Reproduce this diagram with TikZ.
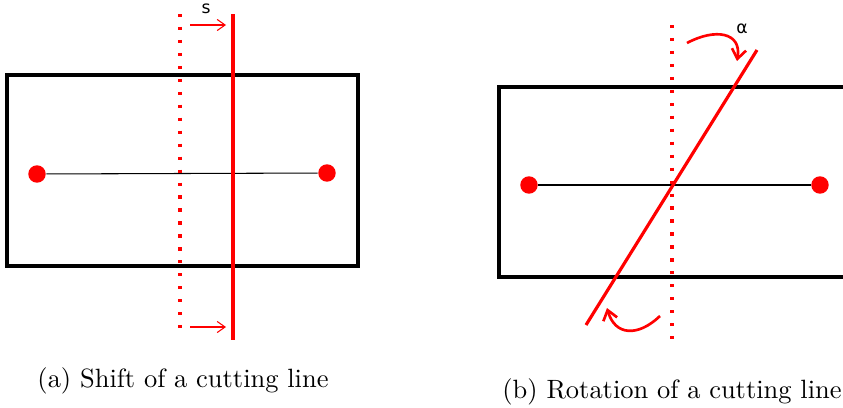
\documentclass[tikz,border=0pt]{standalone}
\usepackage{fontspec}
\newfontfamily\labelfont{DejaVu Sans}
\definecolor{cutred}{RGB}{255,0,0}
\usepackage{tikz}
\usetikzlibrary{shapes,arrows,arrows.meta,positioning,calc}

\tikzset{
    box/.style={draw=black, line width=1.2pt},
    endpoint/.style={circle, fill=cutred, inner sep=0pt, minimum size=6.6pt},
    cutline/.style={draw=cutred, line width=1.2pt},
    oldcut/.style={draw=cutred, line width=1.2pt, dash pattern=on 1.2pt off 3.7pt},
    shiftarrow/.style={draw=cutred, line width=0.4pt, -{Straight Barb[length=3pt, width=4.2pt]}},
    turnarrow/.style={draw=cutred, line width=1pt, -{Straight Barb[length=3.6pt, width=5.4pt]}},
    tag/.style={font=\labelfont\fontsize{6.5}{7}\selectfont, inner sep=1pt}
}

\begin{document}
\begin{tikzpicture}[x=0.378pt, y=-0.378pt]
            \useasboundingbox (0,0) rectangle (843,408);
            % (a) shift
            \draw[box] (7,75) rectangle (358,266);
            \node[endpoint] (la) at (37,174) {};
            \node[endpoint] (lb) at (327,173) {};
            \draw[line width=0.4pt] (la) -- (lb);
            \coordinate (oldtop) at (180,14);
            \coordinate (oldbot) at (180,336);
            \coordinate (newtop) at (233,14);
            \coordinate (newbot) at (233,340);
            \draw[oldcut] (oldtop) -- (oldbot);
            \draw[cutline] (newtop) -- (newbot);
            \coordinate (sa) at (190,25);
            \coordinate (sb) at (226,25);
            \coordinate (sc) at (190,327);
            \coordinate (sd) at (226,327);
            \draw[shiftarrow] (sa) -- (sb);
            \draw[shiftarrow] (sc) -- (sd);
            \node[tag] (s) at (206,9) {s};
            \node (capa) at (183,381) {(a) Shift of a cutting line};
            % (b) rotation
            \draw[box] (499,87) rectangle (848,277);
            \node[endpoint] (ra) at (529,185) {};
            \node[endpoint] (rb) at (820,185) {};
            \draw[line width=0.4pt] (ra) -- (rb);
            \coordinate (vtop) at (672,25);
            \coordinate (vbot) at (672,349);
            \coordinate (rtop) at (757,50);
            \coordinate (rbot) at (586,325);
            \draw[oldcut] (vtop) -- (vbot);
            \draw[cutline] (rbot) -- (rtop);
            \coordinate (ta) at (687,43);
            \coordinate (tb) at (737,61);
            \coordinate (ba) at (660,316);
            \coordinate (bb) at (607,308);
            \draw[turnarrow] (ta) .. controls (715,28) and (742,32) .. (tb);
            \draw[turnarrow] (ba) .. controls (638,337) and (615,336) .. (bb);
            \node[tag] (alpha) at (742,29) {α};
            \node (capb) at (672,392) {(b) Rotation of a cutting line};
        \end{tikzpicture}
\end{document}
